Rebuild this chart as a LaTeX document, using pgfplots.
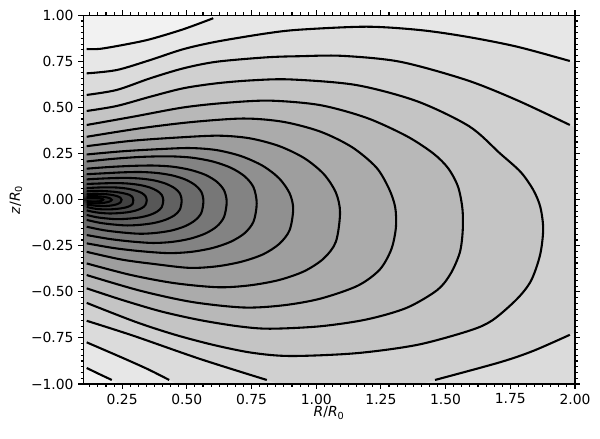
\documentclass[border=0pt]{standalone}
\usepackage{fontspec}
\setmainfont{DejaVu Sans}
\usepackage{pgfplots}
\pgfplotsset{compat=1.18}
\begin{document}
\fontsize{10pt}{12pt}\selectfont
\begin{tikzpicture}
\begin{axis}[
  scale only axis, width=354pt, height=265.5pt,
  xmin=0.1, xmax=2.0, ymin=-1, ymax=1,
  axis on top,
  axis background/.style={fill=black!5},
  axis line style={line width=0.8pt},
  tick align=outside,
  major tick length=3.5pt, minor tick length=2pt,
  every tick/.style={black, line width=0.8pt},
  xtick={0.25,0.5,0.75,1.0,1.25,1.5,1.75,2.0},
  xticklabels={0.25,0.50,0.75,1.00,1.25,1.50,1.75,2.00},
  ytick={-1,-0.75,-0.5,-0.25,0,0.25,0.5,0.75,1},
  yticklabels={−1.00,−0.75,−0.50,−0.25,0.00,0.25,0.50,0.75,1.00},
  minor xtick={0.125,0.15625,...,2.0},
  minor ytick={-0.96875,-0.9375,...,0.99},
  xlabel={\textit{R}/\textit{R}\textsubscript{0}},
  ylabel={\textit{z}/\textit{R}\textsubscript{0}},
  xlabel style={at={(axis description cs:0.5,-0.079)}, anchor=center},
  ylabel style={at={(axis description cs:-0.137,0.5)}, anchor=center},
  cl/.style={smooth, black, line width=1.5pt},
  fl/.style={smooth, draw=none, fill=black!#1},
]
% ---------- filled bands (outer to inner) ----------
\addplot[fl=9.5] coordinates {(0,0.817) (0.113,0.817) (0.165,0.818) (0.268,0.843) (0.358,0.87) (0.486,0.924) (0.602,0.984) (0.7,1.05) (2.2,1.2) (2.2,-1.2) (0.3,-1.04) (0.25,-1.005) (0.21,-0.978) (0.16,-0.945) (0.113,-0.913) (0,-0.913)};
\addplot[fl=14] coordinates {(0,0.685) (0.113,0.685) (0.229,0.703) (0.358,0.757) (0.486,0.816) (0.615,0.857) (0.809,0.902) (0.937,0.922) (1.195,0.938) (1.4,0.92) (1.58,0.884) (1.775,0.83) (1.98,0.752) (2.1,0.70) (2.3,0.5) (2.3,-1.3) (0.52,-1.04) (0.47,-1.005) (0.432,-0.978) (0.35,-0.92) (0.25,-0.857) (0.113,-0.774) (0,-0.774)};
\addplot[fl=18.5] coordinates {(0,0.568) (0.113,0.568) (0.229,0.595) (0.358,0.658) (0.486,0.712) (0.615,0.748) (0.809,0.772) (0.937,0.778) (1.1,0.78) (1.324,0.748) (1.58,0.649) (1.775,0.54) (1.98,0.405) (2.1,0.32) (2.3,0.1) (2.3,-0.6) (2.1,-0.66) (1.98,-0.733) (1.839,-0.82) (1.71,-0.882) (1.459,-0.978) (1.40,-1.002) (1.33,-1.03) (1.1,-1.15) (0.92,-1.03) (0.87,-1.005) (0.809,-0.978) (0.551,-0.864) (0.293,-0.738) (0.113,-0.657) (0,-0.657)};
\addplot[fl=23] coordinates {(0,0.481) (0.113,0.481) (0.229,0.508) (0.358,0.558) (0.486,0.604) (0.615,0.631) (0.75,0.647) (0.9,0.652) (1.153,0.622) (1.389,0.534) (1.591,0.398) (1.71,0.251) (1.79,0.15) (1.839,0.052) (1.866,-0.04) (1.877,-0.16) (1.865,-0.30) (1.83,-0.44) (1.775,-0.54) (1.68,-0.655) (1.591,-0.711) (1.389,-0.788) (1.153,-0.833) (0.9,-0.848) (0.75,-0.83) (0.6,-0.787) (0.45,-0.731) (0.3,-0.662) (0.113,-0.56) (0,-0.56)};
\addplot[fl=28] coordinates {(0,0.405) (0.113,0.405) (0.293,0.45) (0.486,0.50) (0.65,0.525) (0.82,0.537) (1.014,0.513) (1.194,0.444) (1.349,0.345) (1.452,0.251) (1.51,0.17) (1.548,0.07) (1.565,-0.05) (1.566,-0.17) (1.555,-0.286) (1.52,-0.40) (1.468,-0.49) (1.349,-0.587) (1.194,-0.65) (1.014,-0.687) (0.82,-0.70) (0.7,-0.687) (0.55,-0.653) (0.4,-0.606) (0.25,-0.544) (0.113,-0.481) (0,-0.481)};
\addplot[fl=33] coordinates {(0,0.341) (0.113,0.341) (0.32,0.387) (0.52,0.421) (0.72,0.44) (0.873,0.422) (1.016,0.369) (1.138,0.285) (1.232,0.175) (1.281,0.06) (1.305,-0.04) (1.308,-0.15) (1.29,-0.27) (1.245,-0.38) (1.16,-0.467) (1.016,-0.537) (0.873,-0.573) (0.72,-0.585) (0.52,-0.555) (0.32,-0.494) (0.113,-0.409) (0,-0.409)};
\addplot[fl=38] coordinates {(0,0.29) (0.113,0.29) (0.285,0.319) (0.453,0.336) (0.62,0.347) (0.742,0.333) (0.856,0.291) (0.954,0.225) (1.029,0.139) (1.076,0.038) (1.092,-0.07) (1.076,-0.228) (1.029,-0.319) (0.954,-0.388) (0.856,-0.436) (0.742,-0.465) (0.62,-0.475) (0.453,-0.453) (0.285,-0.409) (0.113,-0.346) (0,-0.346)};
\addplot[fl=43.5] coordinates {(0,0.245) (0.113,0.245) (0.248,0.262) (0.379,0.273) (0.51,0.28) (0.614,0.269) (0.71,0.236) (0.794,0.183) (0.857,0.115) (0.897,0.035) (0.911,-0.05) (0.897,-0.166) (0.857,-0.24) (0.794,-0.297) (0.71,-0.337) (0.614,-0.362) (0.51,-0.37) (0.379,-0.35) (0.248,-0.325) (0.113,-0.283) (0,-0.283)};
\addplot[fl=48.5] coordinates {(0,0.207) (0.113,0.207) (0.22,0.222) (0.325,0.232) (0.43,0.235) (0.518,0.228) (0.60,0.207) (0.67,0.173) (0.724,0.126) (0.758,0.066) (0.77,-0.02) (0.758,-0.118) (0.724,-0.181) (0.67,-0.228) (0.60,-0.262) (0.518,-0.283) (0.43,-0.29) (0.325,-0.28) (0.22,-0.263) (0.113,-0.237) (0,-0.237)};
\addplot[fl=53.5] coordinates {(0,0.168) (0.113,0.168) (0.2,0.177) (0.285,0.183) (0.37,0.185) (0.444,0.179) (0.512,0.162) (0.571,0.135) (0.616,0.097) (0.644,0.05) (0.654,-0.012) (0.644,-0.093) (0.616,-0.145) (0.571,-0.184) (0.512,-0.212) (0.444,-0.229) (0.37,-0.235) (0.285,-0.227) (0.2,-0.213) (0.113,-0.192) (0,-0.192)};
\addplot[fl=58] coordinates {(0,0.138) (0.113,0.138) (0.18,0.143) (0.25,0.148) (0.32,0.15) (0.383,0.145) (0.442,0.132) (0.493,0.11) (0.531,0.08) (0.556,0.042) (0.564,-0.008) (0.556,-0.072) (0.531,-0.113) (0.493,-0.144) (0.442,-0.167) (0.383,-0.18) (0.32,-0.185) (0.25,-0.178) (0.18,-0.166) (0.113,-0.147) (0,-0.147)};
\addplot[fl=62] coordinates {(0,0.11) (0.113,0.11) (0.165,0.114) (0.218,0.117) (0.27,0.118) (0.324,0.114) (0.375,0.104) (0.418,0.087) (0.452,0.063) (0.473,0.034) (0.48,-0.005) (0.473,-0.054) (0.452,-0.085) (0.418,-0.109) (0.375,-0.126) (0.324,-0.136) (0.27,-0.14) (0.218,-0.135) (0.165,-0.126) (0.113,-0.11) (0,-0.11)};
\addplot[fl=66] coordinates {(0,0.085) (0.113,0.085) (0.15,0.087) (0.19,0.089) (0.23,0.09) (0.276,0.087) (0.32,0.079) (0.357,0.066) (0.385,0.048) (0.403,0.026) (0.409,-0.004) (0.403,-0.041) (0.385,-0.065) (0.357,-0.083) (0.32,-0.096) (0.276,-0.103) (0.23,-0.106) (0.19,-0.102) (0.15,-0.095) (0.113,-0.083) (0,-0.083)};
\addplot[fl=70] coordinates {(0,0.063) (0.113,0.063) (0.13,0.064) (0.16,0.066) (0.2,0.067) (0.238,0.065) (0.273,0.059) (0.303,0.049) (0.326,0.036) (0.34,0.019) (0.345,-0.003) (0.34,-0.029) (0.326,-0.046) (0.303,-0.059) (0.273,-0.068) (0.238,-0.073) (0.2,-0.075) (0.16,-0.071) (0.13,-0.064) (0.113,-0.058) (0,-0.058)};
\addplot[fl=74] coordinates {(0,0.045) (0.113,0.045) (0.14,0.048) (0.186,0.046) (0.224,0.042) (0.255,0.035) (0.278,0.026) (0.288,0.017) (0.293,-0.002) (0.29,-0.024) (0.282,-0.033) (0.265,-0.042) (0.242,-0.048) (0.214,-0.052) (0.18,-0.053) (0.145,-0.049) (0.113,-0.04) (0,-0.04)};
\addplot[fl=78] coordinates {(0,0.03) (0.113,0.03) (0.14,0.032) (0.175,0.031) (0.205,0.027) (0.228,0.02) (0.243,0.011) (0.248,-0.001) (0.244,-0.014) (0.232,-0.024) (0.212,-0.031) (0.185,-0.035) (0.155,-0.034) (0.113,-0.027) (0,-0.027)};
\addplot[fl=82] coordinates {(0,0.018) (0.113,0.018) (0.14,0.019) (0.17,0.017) (0.192,0.012) (0.205,0.006) (0.21,-0.001) (0.205,-0.008) (0.192,-0.014) (0.17,-0.019) (0.14,-0.02) (0.113,-0.016) (0,-0.016)};
\addplot[fl=88] coordinates {(0,0.009) (0.113,0.009) (0.14,0.01) (0.162,0.008) (0.174,0.004) (0.177,0) (0.174,-0.004) (0.162,-0.009) (0.14,-0.011) (0.113,-0.008) (0,-0.008)};
% ---------- contour lines ----------
\addplot[cl] coordinates {(0.113,0.817) (0.165,0.818) (0.268,0.843) (0.358,0.87) (0.486,0.924) (0.602,0.984)};
\addplot[cl] coordinates {(0.113,-0.913) (0.16,-0.945) (0.21,-0.978)};
\addplot[cl] coordinates {(0.113,0.685) (0.229,0.703) (0.358,0.757) (0.486,0.816) (0.615,0.857) (0.809,0.902) (0.937,0.922) (1.195,0.938) (1.4,0.92) (1.58,0.884) (1.775,0.83) (1.98,0.752)};
\addplot[cl] coordinates {(0.113,-0.774) (0.25,-0.857) (0.35,-0.92) (0.432,-0.978)};
\addplot[cl] coordinates {(0.113,0.568) (0.229,0.595) (0.358,0.658) (0.486,0.712) (0.615,0.748) (0.809,0.772) (0.937,0.778) (1.1,0.78) (1.324,0.748) (1.58,0.649) (1.775,0.54) (1.98,0.405)};
\addplot[cl] coordinates {(0.113,-0.657) (0.293,-0.738) (0.551,-0.864) (0.809,-0.978)};
\addplot[cl] coordinates {(1.459,-0.978) (1.71,-0.882) (1.839,-0.82) (1.98,-0.733)};
\addplot[cl] coordinates {(0.113,0.481) (0.229,0.508) (0.358,0.558) (0.486,0.604) (0.615,0.631) (0.75,0.647) (0.9,0.652) (1.153,0.622) (1.389,0.534) (1.591,0.398) (1.71,0.251) (1.79,0.15) (1.839,0.052) (1.866,-0.04) (1.877,-0.16) (1.865,-0.30) (1.83,-0.44) (1.775,-0.54) (1.68,-0.655) (1.591,-0.711) (1.389,-0.788) (1.153,-0.833) (0.9,-0.848) (0.75,-0.83) (0.6,-0.787) (0.45,-0.731) (0.3,-0.662) (0.113,-0.56)};
\addplot[cl] coordinates {(0.113,0.405) (0.293,0.45) (0.486,0.50) (0.65,0.525) (0.82,0.537) (1.014,0.513) (1.194,0.444) (1.349,0.345) (1.452,0.251) (1.51,0.17) (1.548,0.07) (1.565,-0.05) (1.566,-0.17) (1.555,-0.286) (1.52,-0.40) (1.468,-0.49) (1.349,-0.587) (1.194,-0.65) (1.014,-0.687) (0.82,-0.70) (0.7,-0.687) (0.55,-0.653) (0.4,-0.606) (0.25,-0.544) (0.113,-0.481)};
\addplot[cl] coordinates {(0.113,0.341) (0.32,0.387) (0.52,0.421) (0.72,0.44) (0.873,0.422) (1.016,0.369) (1.138,0.285) (1.232,0.175) (1.281,0.06) (1.305,-0.04) (1.308,-0.15) (1.29,-0.27) (1.245,-0.38) (1.16,-0.467) (1.016,-0.537) (0.873,-0.573) (0.72,-0.585) (0.52,-0.555) (0.32,-0.494) (0.113,-0.409)};
\addplot[cl] coordinates {(0.113,0.29) (0.285,0.319) (0.453,0.336) (0.62,0.347) (0.742,0.333) (0.856,0.291) (0.954,0.225) (1.029,0.139) (1.076,0.038) (1.092,-0.07) (1.076,-0.228) (1.029,-0.319) (0.954,-0.388) (0.856,-0.436) (0.742,-0.465) (0.62,-0.475) (0.453,-0.453) (0.285,-0.409) (0.113,-0.346)};
\addplot[cl] coordinates {(0.113,0.245) (0.248,0.262) (0.379,0.273) (0.51,0.28) (0.614,0.269) (0.71,0.236) (0.794,0.183) (0.857,0.115) (0.897,0.035) (0.911,-0.05) (0.897,-0.166) (0.857,-0.24) (0.794,-0.297) (0.71,-0.337) (0.614,-0.362) (0.51,-0.37) (0.379,-0.35) (0.248,-0.325) (0.113,-0.283)};
\addplot[cl] coordinates {(0.113,0.207) (0.22,0.222) (0.325,0.232) (0.43,0.235) (0.518,0.228) (0.60,0.207) (0.67,0.173) (0.724,0.126) (0.758,0.066) (0.77,-0.02) (0.758,-0.118) (0.724,-0.181) (0.67,-0.228) (0.60,-0.262) (0.518,-0.283) (0.43,-0.29) (0.325,-0.28) (0.22,-0.263) (0.113,-0.237)};
\addplot[cl] coordinates {(0.113,0.168) (0.2,0.177) (0.285,0.183) (0.37,0.185) (0.444,0.179) (0.512,0.162) (0.571,0.135) (0.616,0.097) (0.644,0.05) (0.654,-0.012) (0.644,-0.093) (0.616,-0.145) (0.571,-0.184) (0.512,-0.212) (0.444,-0.229) (0.37,-0.235) (0.285,-0.227) (0.2,-0.213) (0.113,-0.192)};
\addplot[cl] coordinates {(0.113,0.138) (0.18,0.143) (0.25,0.148) (0.32,0.15) (0.383,0.145) (0.442,0.132) (0.493,0.11) (0.531,0.08) (0.556,0.042) (0.564,-0.008) (0.556,-0.072) (0.531,-0.113) (0.493,-0.144) (0.442,-0.167) (0.383,-0.18) (0.32,-0.185) (0.25,-0.178) (0.18,-0.166) (0.113,-0.147)};
\addplot[cl] coordinates {(0.113,0.11) (0.165,0.114) (0.218,0.117) (0.27,0.118) (0.324,0.114) (0.375,0.104) (0.418,0.087) (0.452,0.063) (0.473,0.034) (0.48,-0.005) (0.473,-0.054) (0.452,-0.085) (0.418,-0.109) (0.375,-0.126) (0.324,-0.136) (0.27,-0.14) (0.218,-0.135) (0.165,-0.126) (0.113,-0.11)};
\addplot[cl] coordinates {(0.113,0.085) (0.15,0.087) (0.19,0.089) (0.23,0.09) (0.276,0.087) (0.32,0.079) (0.357,0.066) (0.385,0.048) (0.403,0.026) (0.409,-0.004) (0.403,-0.041) (0.385,-0.065) (0.357,-0.083) (0.32,-0.096) (0.276,-0.103) (0.23,-0.106) (0.19,-0.102) (0.15,-0.095) (0.113,-0.083)};
\addplot[cl] coordinates {(0.113,0.063) (0.13,0.064) (0.16,0.066) (0.2,0.067) (0.238,0.065) (0.273,0.059) (0.303,0.049) (0.326,0.036) (0.34,0.019) (0.345,-0.003) (0.34,-0.029) (0.326,-0.046) (0.303,-0.059) (0.273,-0.068) (0.238,-0.073) (0.2,-0.075) (0.16,-0.071) (0.13,-0.064) (0.113,-0.058)};
\addplot[cl] coordinates {(0.113,0.045) (0.14,0.048) (0.186,0.046) (0.224,0.042) (0.255,0.035) (0.278,0.026) (0.288,0.017) (0.293,-0.002) (0.29,-0.024) (0.282,-0.033) (0.265,-0.042) (0.242,-0.048) (0.214,-0.052) (0.18,-0.053) (0.145,-0.049) (0.113,-0.04)};
\addplot[cl] coordinates {(0.113,0.03) (0.14,0.032) (0.175,0.031) (0.205,0.027) (0.228,0.02) (0.243,0.011) (0.248,-0.001) (0.244,-0.014) (0.232,-0.024) (0.212,-0.031) (0.185,-0.035) (0.155,-0.034) (0.113,-0.027)};
\addplot[cl] coordinates {(0.113,0.018) (0.14,0.019) (0.17,0.017) (0.192,0.012) (0.205,0.006) (0.21,-0.001) (0.205,-0.008) (0.192,-0.014) (0.17,-0.019) (0.14,-0.02) (0.113,-0.016)};
\addplot[cl] coordinates {(0.113,0.009) (0.14,0.01) (0.162,0.008) (0.174,0.004) (0.177,0) (0.174,-0.004) (0.162,-0.009) (0.14,-0.011) (0.113,-0.008)};
\coordinate (sw) at (rel axis cs:0,0);
\coordinate (ne) at (rel axis cs:1,1);
\end{axis}
\pgfresetboundingbox
\path (sw) ++(-60pt,-38.9pt);
\path (ne) ++(18pt,11pt);
\end{tikzpicture}
\end{document}
